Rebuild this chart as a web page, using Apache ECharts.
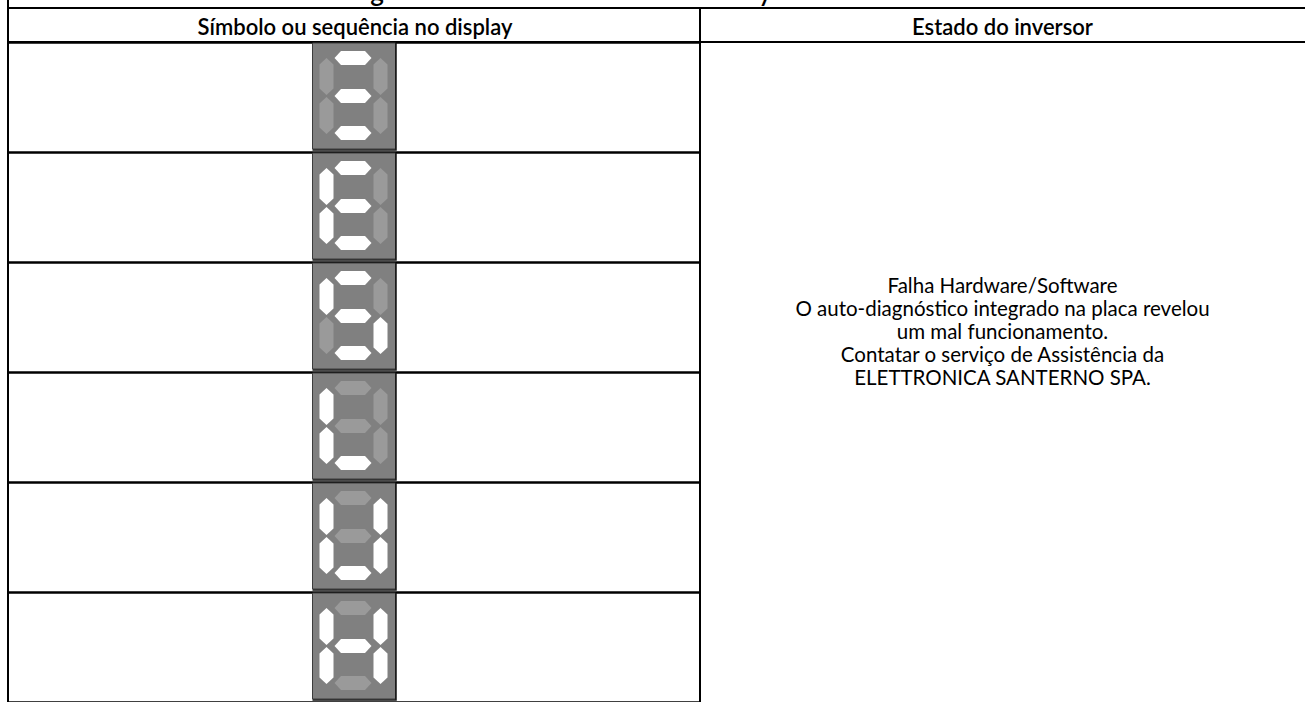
<!DOCTYPE html>
<html><head><meta charset="utf-8">
<script src="https://cdn.jsdelivr.net/npm/echarts@6/dist/echarts.min.js"></script>
<style>html,body{margin:0;padding:0;background:#fff}#c{width:1305px;height:702px}</style>
</head><body><div id="c"></div>
<script>
// ---- data ----
const headers = ['Símbolo ou sequência no display', 'Estado do inversor'];
const rowLabels = ['1', '2', '3', '4', '5', '6'];
// seven-segment states per row: a=top, b=top-right, c=bottom-right, d=bottom, e=bottom-left, f=top-left, g=middle
const segA = [1, 1, 1, 0, 0, 0];
const segB = [0, 0, 0, 0, 1, 1];
const segC = [0, 0, 1, 0, 1, 1];
const segD = [1, 1, 1, 1, 1, 0];
const segE = [0, 1, 0, 1, 1, 1];
const segF = [0, 1, 1, 1, 1, 1];
const segG = [1, 1, 1, 0, 0, 1];
const stateLines = [
  'Falha Hardware/Software',
  'O auto-diagnóstico integrado na placa revelou',
  'um mal funcionamento.',
  'Contatar o serviço de Assistência da',
  'ELETTRONICA SANTERNO SPA.'
];
const titleFragments = ['g', 'y'];

// ---- chart ----
const FONT = 'Lato';
const seriesData = rowLabels.map((r, i) => [0, i, segA[i], segB[i], segC[i], segD[i], segE[i], segF[i], segG[i]]);

function renderItem(params, api) {
  const c = api.coord([api.value(0), api.value(1)]);
  const cx = c[0], cy = c[1] - 1;
  const ON = '#ffffff', OFF = '#9a9a9a';
  const H = (x, y) => [[x - 18.5, y], [x - 12, y - 7], [x + 12, y - 7], [x + 18.5, y], [x + 12, y + 7], [x - 12, y + 7]];
  const V = (x, y) => [[x, y - 18.5], [x - 7, y - 12], [x - 7, y + 12], [x, y + 18.5], [x + 7, y + 12], [x + 7, y - 12]];
  const segs = [
    H(cx - 1, cy - 38),      // a
    V(cx + 26.5, cy - 19.5), // b
    V(cx + 26.5, cy + 19.5), // c
    H(cx - 1, cy + 37),      // d
    V(cx - 27.5, cy + 19.5), // e
    V(cx - 27.5, cy - 19.5), // f
    H(cx - 1, cy)            // g
  ];
  const children = [
    { type: 'rect', shape: { x: cx - 41.5, y: cy - 53, width: 83, height: 106 },
      style: { fill: '#808080', stroke: '#3c3c3c', lineWidth: 1 } },
    { type: 'polyline', shape: { points: [[cx + 42, cy - 53], [cx + 42, cy + 54], [cx - 41.5, cy + 54]] },
      style: { stroke: '#111', lineWidth: 1.5, fill: null } }
  ];
  segs.forEach((pts, k) => {
    children.push({ type: 'polygon', shape: { points: pts },
      style: { fill: api.value(2 + k) ? ON : OFF } });
  });
  return { type: 'group', children };
}

const graphics = [
  { type: 'line', shape: { x1: 8, y1: 0, x2: 8, y2: 702 }, style: { stroke: '#000', lineWidth: 2 } },
  { type: 'line', shape: { x1: 8, y1: 8, x2: 1305, y2: 8 }, style: { stroke: '#000', lineWidth: 2 } },
  { type: 'line', shape: { x1: 8, y1: 42, x2: 1305, y2: 42 }, style: { stroke: '#000', lineWidth: 2 } },
  { type: 'line', shape: { x1: 700, y1: 8, x2: 700, y2: 702 }, style: { stroke: '#000', lineWidth: 2 } },
  { type: 'text', x: 355, y: 26, style: { text: headers[0], font: '600 22px ' + FONT, fill: '#000', textAlign: 'center', textVerticalAlign: 'middle' } },
  { type: 'text', x: 1002.5, y: 26, style: { text: headers[1], font: '600 22px ' + FONT, fill: '#000', textAlign: 'center', textVerticalAlign: 'middle' } },
  { type: 'text', x: 377, y: -9, style: { text: titleFragments[0], font: '600 26px ' + FONT, fill: '#000', textAlign: 'center', textVerticalAlign: 'middle' } },
  { type: 'text', x: 765, y: -9, style: { text: titleFragments[1], font: '600 26px ' + FONT, fill: '#000', textAlign: 'center', textVerticalAlign: 'middle' } }
];
stateLines.forEach((t, i) => {
  graphics.push({ type: 'text', x: 1002.5, y: 285 + 23 * i,
    style: { text: t, font: '20.5px ' + FONT, fill: '#000', textAlign: 'center', textVerticalAlign: 'middle' } });
});

const chart = echarts.init(document.getElementById('c'), null, { renderer: 'svg' });
chart.setOption({
  animation: false,
  backgroundColor: '#fff',
  grid: { left: 8, top: 42, width: 692, height: 667.2, containLabel: false },
  xAxis: { type: 'value', min: -1, max: 1, show: false },
  yAxis: {
    type: 'category', data: rowLabels, inverse: true, boundaryGap: true,
    axisLine: { show: false }, axisTick: { show: false, interval: 0 }, axisLabel: { show: false },
    splitLine: { show: true, interval: 0, lineStyle: { color: '#000', width: 2.5 } }
  },
  series: [{ type: 'custom', renderItem, data: seriesData, clip: false }],
  graphic: graphics
});
</script></body></html>
